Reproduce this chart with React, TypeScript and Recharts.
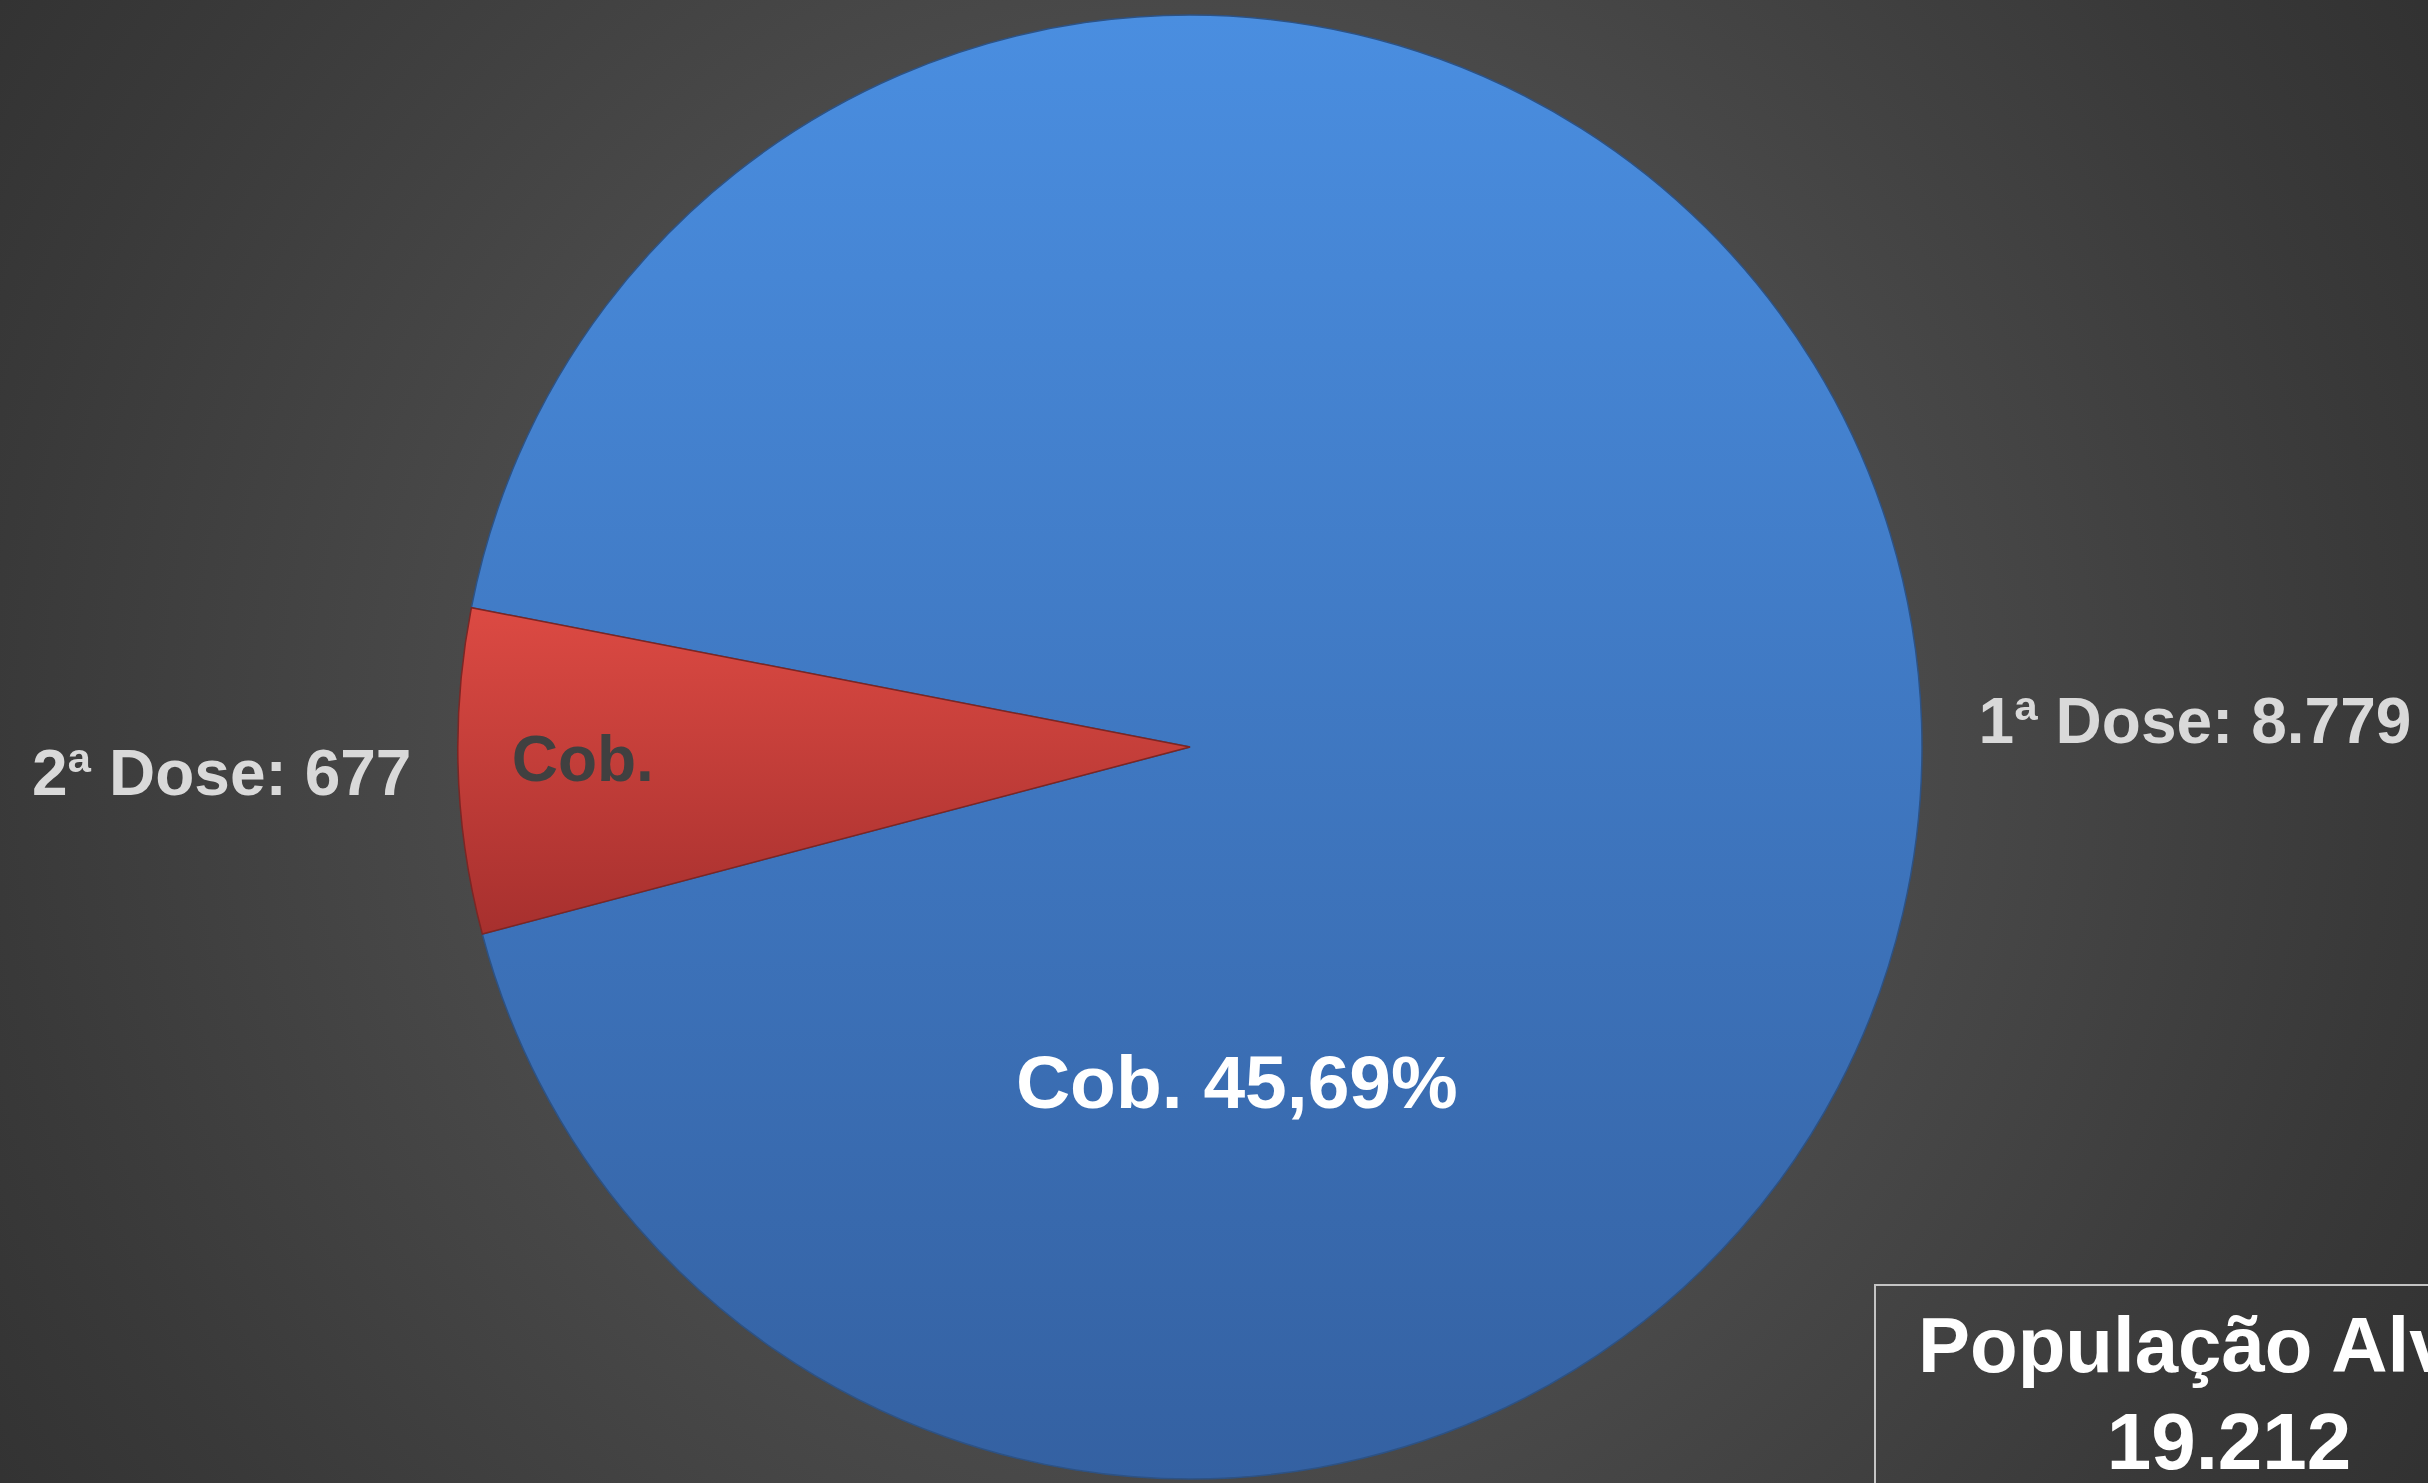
import React from 'react';
import { PieChart, Pie, Cell } from 'recharts';

// ---- data ----
const categories = ['1ª Dose', '2ª Dose'];
const doses = [8779, 677];
const coverageLabels = ['Cob. 45,69%', 'Cob.'];
const targetPopulationTitle = 'População Alvo';
const targetPopulation = 19212;

const data = categories.map((name, i) => ({ name, value: doses[i], cob: coverageLabels[i] }));

const fmt = (n: number) => String(n).replace(/\B(?=(\d{3})+(?!\d))/g, '.');

const W = 2428;
const H = 1483;
const FONT = '"Liberation Sans", Arial, sans-serif';
const RAD = Math.PI / 180;

const fills = ['url(#blueGrad)', 'url(#redGrad)'];
const strokes = ['#2d5284', '#7c2624'];

const renderLabel = (props: any) => {
  const { cx, cy, midAngle, outerRadius, index } = props;
  const item = data[index];
  const cos = Math.cos(-midAngle * RAD);
  const sin = Math.sin(-midAngle * RAD);
  const ro = outerRadius + (cos >= 0 ? 57 : 47);
  const ox = cx + ro * cos;
  const oy = cy + ro * sin;
  const anchor = cos >= 0 ? 'start' : 'end';

  let ix: number, iy: number, size: number, color: string;
  if (index === 0) {
    ix = cx + outerRadius * 0.064;
    iy = cy + outerRadius * 0.457;
    size = 75;
    color = '#ffffff';
  } else {
    ix = cx + outerRadius * 0.83 * cos;
    iy = cy + outerRadius * 0.83 * sin - 8;
    size = 64;
    color = '#404040';
  }
  return (
    <g>
      <text x={ox} y={oy} textAnchor={anchor} dominantBaseline="central" fill="#d9d9d9"
        fontFamily={FONT} fontWeight="bold" fontSize={64}>
        {`${item.name}: ${fmt(item.value)}`}
      </text>
      <text x={ix} y={iy} textAnchor="middle" dominantBaseline="central" fill={color}
        fontFamily={FONT} fontWeight="bold" fontSize={size}>
        {item.cob}
      </text>
    </g>
  );
};

export default function App() {
  return (
    <div
      style={{
        position: 'absolute',
        left: 0,
        top: 0,
        width: W,
        height: H,
        overflow: 'hidden',
        background:
          'radial-gradient(circle at 1190px 740px, #525252 0px, #4a4a4a 700px, #393939 1200px, #303030 1500px)',
      }}
    >
      <PieChart width={W} height={H} margin={{ top: 0, right: 0, bottom: 0, left: 0 }}>
        <defs>
          <linearGradient id="blueGrad" gradientUnits="userSpaceOnUse" x1="0" y1="15" x2="0" y2="1479">
            <stop offset="0%" stopColor="#4a8ee0" />
            <stop offset="100%" stopColor="#3461a2" />
          </linearGradient>
          <linearGradient id="redGrad" gradientUnits="userSpaceOnUse" x1="0" y1="607" x2="0" y2="934">
            <stop offset="0%" stopColor="#dc4a43" />
            <stop offset="100%" stopColor="#a7302e" />
          </linearGradient>
        </defs>
        <Pie
          data={data}
          dataKey="value"
          nameKey="name"
          cx={1190}
          cy={747}
          outerRadius={732}
          startAngle={194.8}
          endAngle={554.8}
          label={renderLabel}
          labelLine={false}
          isAnimationActive={false}
        >
          {data.map((d, i) => (
            <Cell key={d.name} fill={fills[i]} stroke={strokes[i]} strokeWidth={1.5} />
          ))}
        </Pie>
      </PieChart>
      <div
        style={{
          position: 'absolute',
          left: 1874,
          top: 1284,
          width: 720,
          height: 300,
          boxSizing: 'border-box',
          border: '2px solid #c4c4c4',
          color: '#ffffff',
          fontFamily: FONT,
          fontWeight: 'bold',
          whiteSpace: 'nowrap',
        }}
      >
        <div
          style={{
            position: 'absolute',
            left: 42,
            top: 13,
            fontSize: 78,
            lineHeight: '93px',
          }}
        >
          {targetPopulationTitle}
        </div>
        <div
          style={{
            position: 'absolute',
            left: 0,
            width: 706,
            top: 109,
            textAlign: 'center',
            fontSize: 80,
            lineHeight: '93px',
          }}
        >
          {fmt(targetPopulation)}
        </div>
      </div>
    </div>
  );
}
